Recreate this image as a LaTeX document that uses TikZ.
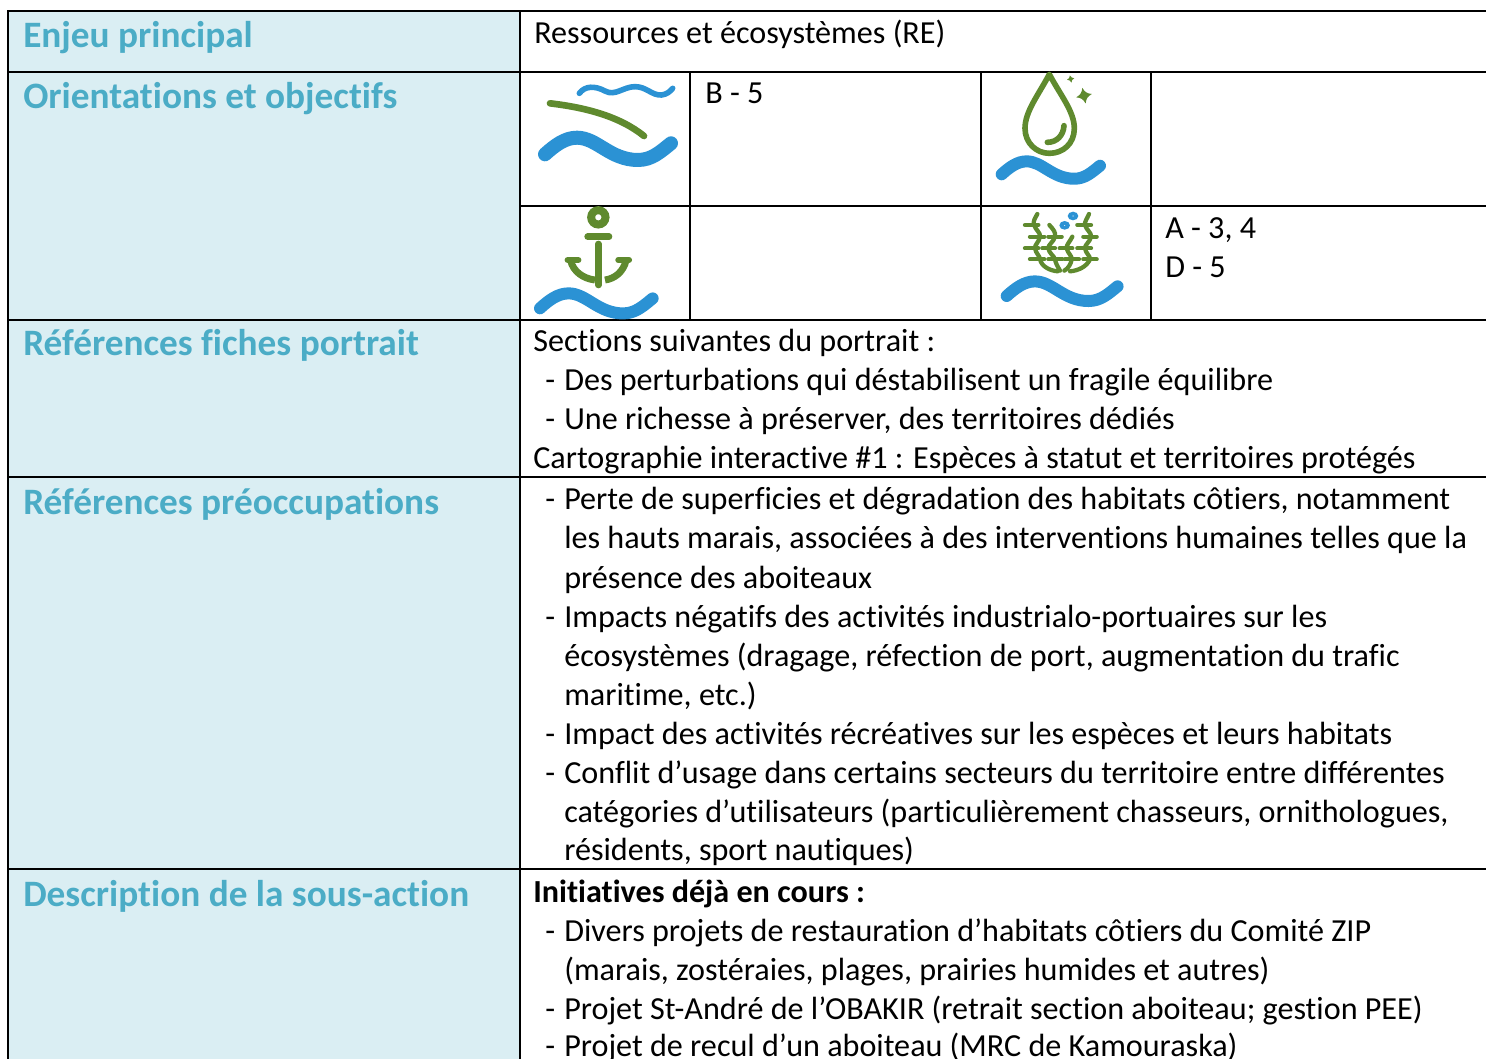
\documentclass[tikz,border=0pt]{standalone}
\usepackage{fontspec}
\setmainfont{Carlito}[RawFeature={-liga;-clig}]
\definecolor{headbg}{HTML}{DAEEF3}
\definecolor{headfg}{HTML}{4BACC6}
\definecolor{iconblue}{HTML}{2B92D4}
\definecolor{icongreen}{HTML}{5F8A2E}
\tikzset{
  body/.style={anchor=base west,inner sep=0pt,font=\fontsize{24.1}{29}\selectfont,text=black},
  bodybold/.style={body,font=\fontsize{24.1}{29}\selectfont\bfseries},
  head/.style={anchor=base west,inner sep=0pt,font=\fontsize{27.95}{33}\selectfont\bfseries,text=headfg},
  rule/.style={draw=black,line width=1.6pt},
  gstroke/.style={draw=icongreen,line cap=round,line join=round},
  bstroke/.style={draw=iconblue,line cap=round,line join=round},
}
\newcommand{\wavecurve}{(0,0) .. controls (10,-9) and (20,-16.6) .. (32,-16.6) .. controls (52,-16.6) and (65,5.7) .. (93,5.7) .. controls (107,5.7) and (116,-3) .. (126,-11)}
\newcommand{\sparkle}[3]{\fill[icongreen,shift={(#1,#2)},rotate=12,scale=#3] (0,-1) .. controls (.2,-.4) and (.4,-.2) .. (1,0) .. controls (.4,.2) and (.2,.4) .. (0,1) .. controls (-.2,.4) and (-.4,.2) .. (-1,0) .. controls (-.4,-.2) and (-.2,-.4) .. (0,-1) -- cycle;}
\begin{document}
\begin{tikzpicture}[x=0.75pt,y=-0.75pt]
\useasboundingbox (0,0) rectangle (1486,1059);
\clip (0,0) rectangle (1486,1059);
\fill[white] (0,0) rectangle (1486,1059);
\fill[headbg] (8,11) rectangle (520,1059);
% table rules
\draw[rule] (8,1059) -- (8,11) -- (1486,11);
\draw[rule] (8,72) -- (1486,72);
\draw[rule] (520,206) -- (1486,206);
\draw[rule] (8,320) -- (1486,320);
\draw[rule] (8,477) -- (1486,477);
\draw[rule] (8,869) -- (1486,869);
\draw[rule] (520,11) -- (520,1059);
\draw[rule] (690,72) -- (690,320);
\draw[rule] (981,72) -- (981,320);
\draw[rule] (1151,72) -- (1151,320);
% headings
\node[head] (h1) at (23,48) {Enjeu principal};
\node[head] (h2) at (23,109) {Orientations et objectifs};
\node[head] (h3) at (23,356) {Références fiches portrait};
\node[head] (h4) at (23,514) {Références préoccupations};
\node[head] (h5) at (23,906) {Description de la sous-action};
% cells
\node[body] (r1) at (534,44) {Ressources et écosystèmes (RE)};
\node[body] (c1) at (705,104) {B - 5};
\node[body] (c2) at (1165,239) {A - 3, 4};
\node[body] (c3) at (1165,278) {D - 5};
% portrait
\node[body] (p0) at (533,352) {Sections suivantes du portrait :};
\node[body] (p1d) at (545,391) {-};
\node[body] (p1) at (564,391) {Des perturbations qui déstabilisent un fragile équilibre};
\node[body] (p2d) at (545,430) {-};
\node[body] (p2) at (564,430) {Une richesse à préserver, des territoires dédiés};
\node[body] (p3) at (533,469) {Cartographie interactive \#1 : Espèces à statut et territoires protégés};
% preoccupations
\node[body] (q1d) at (545,509) {-};
\node[body] (q1) at (564,509) {Perte de superficies et dégradation des habitats côtiers, notamment};
\node[body] (q2) at (564,548) {les hauts marais, associées à des interventions humaines telles que la};
\node[body] (q3) at (564,588) {présence des aboiteaux};
\node[body] (q4d) at (545,627) {-};
\node[body] (q4) at (564,627) {Impacts négatifs des activités industrialo-portuaires sur les};
\node[body] (q5) at (564,666) {écosystèmes (dragage, réfection de port, augmentation du trafic};
\node[body] (q6) at (564,705) {maritime, etc.)};
\node[body] (q7d) at (545,744) {-};
\node[body] (q7) at (564,744) {Impact des activités récréatives sur les espèces et leurs habitats};
\node[body] (q8d) at (545,783) {-};
\node[body] (q8) at (564,783) {Conflit d’usage dans certains secteurs du territoire entre différentes};
\node[body] (q9) at (564,822) {catégories d’utilisateurs (particulièrement chasseurs, ornithologues,};
\node[body] (q10) at (564,860) {résidents, sport nautiques)};
% description
\node[bodybold] (d0) at (533,902) {Initiatives déjà en cours :};
\node[body] (d1d) at (545,941) {-};
\node[body] (d1) at (564,941) {Divers projets de restauration d’habitats côtiers du Comité ZIP};
\node[body] (d2) at (564,980) {(marais, zostéraies, plages, prairies humides et autres)};
\node[body] (d3d) at (545,1019) {-};
\node[body] (d3) at (564,1019) {Projet St-André de l’OBAKIR (retrait section aboiteau; gestion PEE)};
\node[body] (d4d) at (545,1056) {-};
\node[body] (d4) at (564,1056) {Projet de recul d’un aboiteau (MRC de Kamouraska)};
% icon 1
\begin{scope}[shift={(520,65)},scale=1/3]
\draw[bstroke,line width=4.2pt] (178,85) .. controls (195,62) and (225,62) .. (255,78) .. controls (285,95) and (310,65) .. (345,65) .. controls (380,65) and (395,92) .. (425,90) .. controls (440,88) and (450,80) .. (458,70);
\draw[gstroke,line width=5pt] (90,115) .. controls (200,128) and (300,155) .. (372,213);
\end{scope}
\begin{scope}[shift={(545,154.3)}]
\draw[bstroke,line width=10.5pt] \wavecurve;
\end{scope}
% icon 2
\begin{scope}[shift={(975,65)},scale=1/3]
\draw[gstroke,line width=4.2pt] (223,28) .. controls (190,90) and (150,140) .. (150,190) .. controls (150,235) and (185,265) .. (223,265) .. controls (265,265) and (298,235) .. (298,190) .. controls (298,140) and (256,90) .. (223,28) -- cycle;
\draw[gstroke,line width=4.2pt] (267,182) .. controls (265,212) and (245,232) .. (217,232);
\sparkle{327}{92}{24}
\sparkle{287}{42}{11}
\end{scope}
\begin{scope}[shift={(1001.7,174.3)},xscale=.78,yscale=.78]
\draw[bstroke,line width=9pt] \wavecurve;
\end{scope}
% icon 3
\begin{scope}[shift={(520,200)},scale=1/3]
\draw[draw=icongreen,line width=6pt] (235,52) circle (21.5);
\draw[gstroke,line width=5pt] (203,110) -- (267,110);
\draw[draw=icongreen,line width=5pt,line cap=round] (235,255) -- (235,132);
\draw[gstroke,line width=4.6pt] (143,180) -- (175,180);
\draw[gstroke,line width=4.6pt] (295,180) -- (327,180);
\draw[draw=icongreen,line width=5.2pt] (152,182) .. controls (160,215) and (190,236) .. (225,240);
\draw[draw=icongreen,line width=5.2pt] (318,182) .. controls (310,215) and (285,236) .. (255,240);
\end{scope}
\begin{scope}[shift={(540,308.3)},xscale=.894,yscale=.9]
\draw[bstroke,line width=9pt] \wavecurve;
\end{scope}
% icon 4
\begin{scope}[shift={(985,200)},scale=1/3]
\begin{scope}[gstroke,line width=3.2pt]
\draw (157,42) .. controls (150,55) and (143,65) .. (147,75) .. controls (152,90) and (167,98) .. (165,110) .. controls (163,125) and (148,135) .. (150,145) .. controls (152,160) and (165,168) .. (165,178) .. controls (170,200) and (195,212) .. (218,214);
\draw (312,42) .. controls (307,55) and (298,65) .. (300,75) .. controls (304,90) and (320,98) .. (318,110) .. controls (316,125) and (298,135) .. (300,145) .. controls (302,160) and (316,168) .. (315,178) .. controls (305,200) and (280,212) .. (255,214);
\draw (193,75) .. controls (205,88) and (213,98) .. (210,110) .. controls (207,125) and (188,135) .. (190,145) .. controls (192,160) and (208,168) .. (210,178) .. controls (212,190) and (218,200) .. (225,212);
\draw (262,110) .. controls (255,125) and (243,135) .. (245,145) .. controls (248,160) and (262,168) .. (260,178) .. controls (258,192) and (250,205) .. (238,212);
\draw (120,75) -- (160,75); \draw (135,110) -- (178,110); \draw (120,145) -- (160,145); \draw (135,178) -- (178,178);
\draw (277,75) -- (318,75); \draw (295,110) -- (335,110); \draw (277,145) -- (318,145); \draw (295,178) -- (335,178);
\draw (190,110) -- (230,110); \draw (172,145) -- (210,145); \draw (190,178) -- (232,178);
\draw (224,145) -- (262,145); \draw (240,178) -- (282,178);
\end{scope}
\fill[iconblue,even odd rule] (264,48) ellipse (16 and 13) (264,48) ellipse (3 and 2);
\fill[iconblue,even odd rule] (239,76) ellipse (16 and 13) (239,76) ellipse (3 and 2);
\end{scope}
\begin{scope}[shift={(1006.7,296)},xscale=.88,yscale=.88]
\draw[bstroke,line width=9pt] \wavecurve;
\end{scope}
\end{tikzpicture}
\end{document}
